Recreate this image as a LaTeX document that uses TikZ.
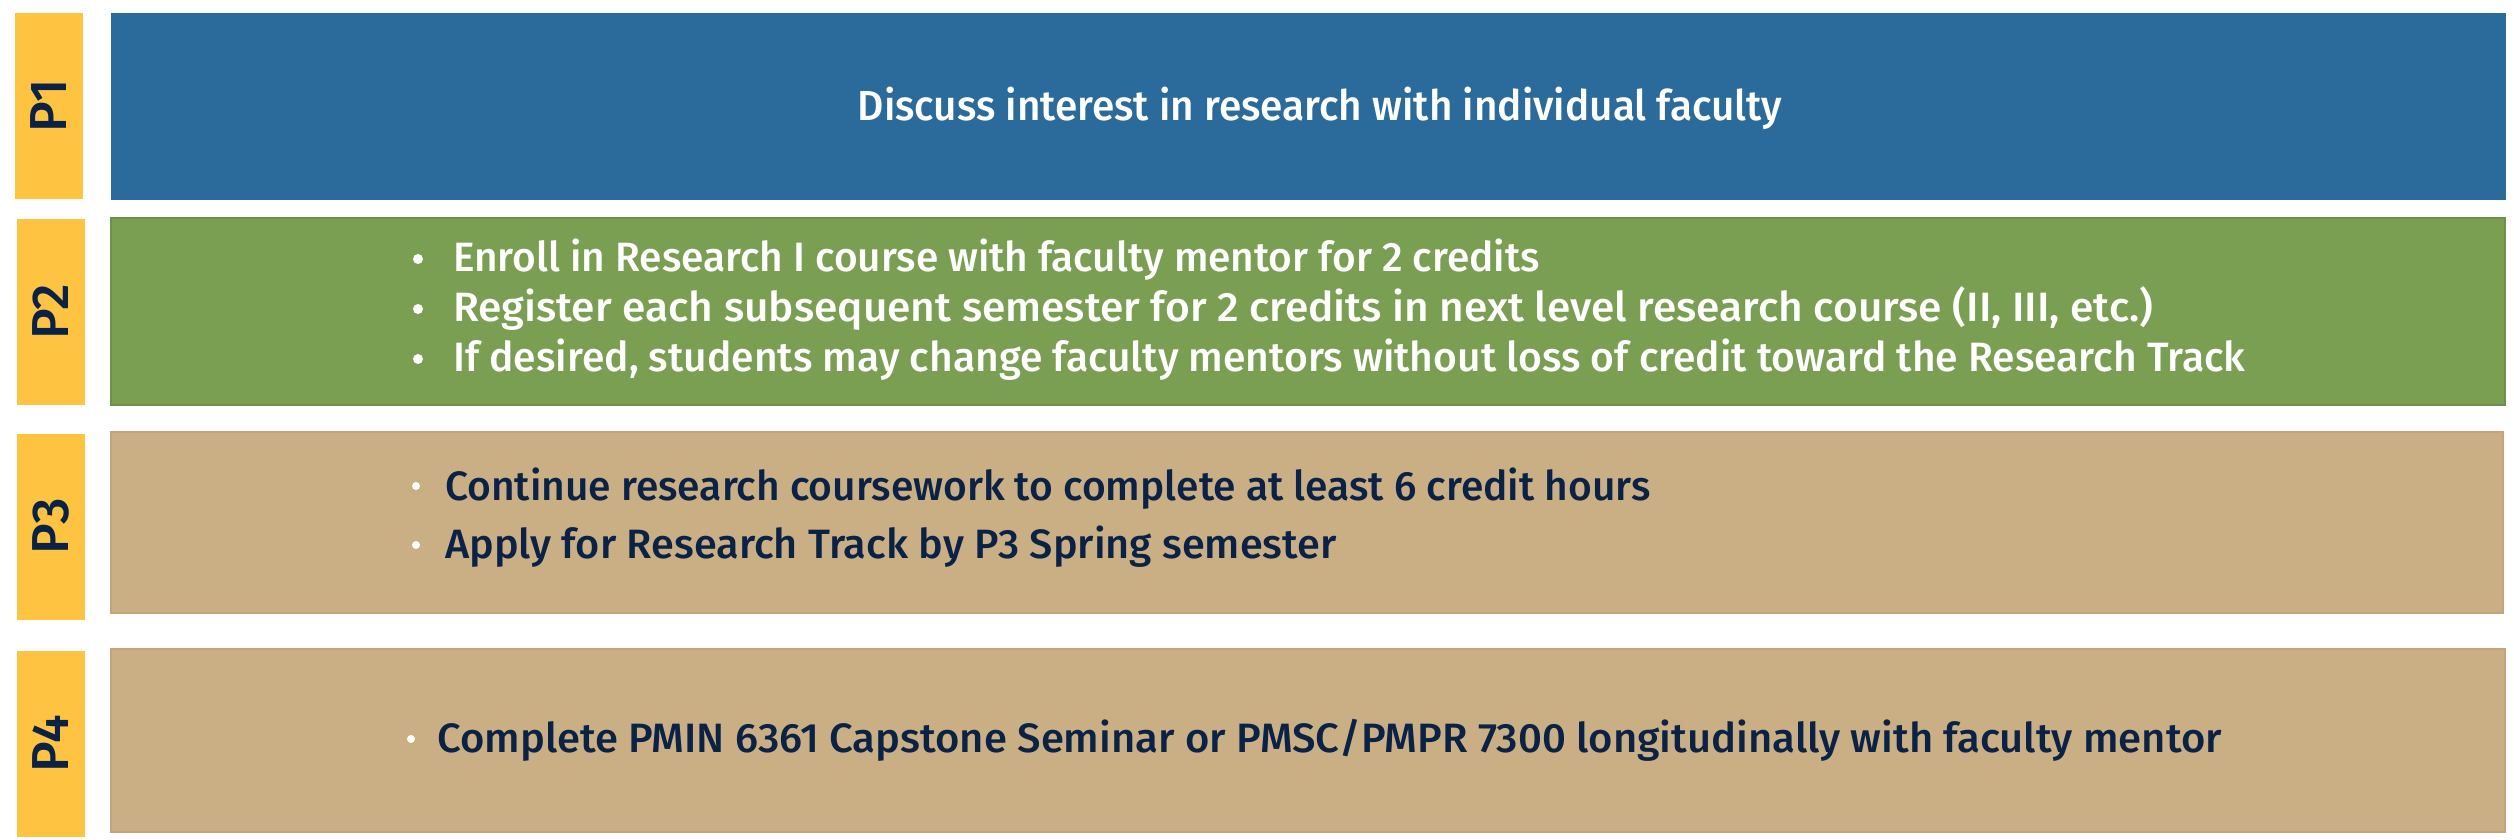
\documentclass[tikz,border=0pt]{standalone}
\usepackage{fontspec}
\usepackage{graphicx}
\setmainfont{Fira Sans}[UprightFont={* Medium}]
\definecolor{cblue}{HTML}{2B6B9B}
\definecolor{cgreen}{HTML}{7A9E52}
\definecolor{cgreenb}{HTML}{6F8F4C}
\definecolor{ctan}{HTML}{CBAF84}
\definecolor{ctanb}{HTML}{C2A57C}
\definecolor{cyel}{HTML}{FFC342}
\definecolor{cnavy}{HTML}{0B2247}
\newcommand{\hsq}[2]{\scalebox{#1}[1]{#2}}
\tikzset{
  lbl/.style={fill=cyel, draw=none, rotate=90, minimum width=186pt, minimum height=68pt,
    inner sep=0pt, text=cnavy, font=\fontsize{52}{56}\selectfont},
  txt/.style={inner sep=0pt, anchor=base west, font=\fontsize{41}{46}\selectfont},
  bul/.style={circle, fill=white, inner sep=0pt},
}
\begin{document}
\begin{tikzpicture}[x=1pt,y=-1pt]
\useasboundingbox (0,0) rectangle (2514,840);
\fill[white] (0,0) rectangle (2514,840);
% labels
\node[lbl] (l1) at (49,106) {P1};
\node[lbl] (l2) at (50.5,312) {P2};
\node[lbl] (l3) at (50.5,526.5) {P3};
\node[lbl] (l4) at (50.5,743.5) {P4};
% bands
\filldraw[fill=cblue, draw=cblue] (111,13) rectangle (2505,199);
\filldraw[fill=cgreen, draw=cgreenb, line width=2pt] (111,218) rectangle (2505,405);
\filldraw[fill=ctan, draw=ctanb, line width=2pt] (111,432) rectangle (2503,613);
\filldraw[fill=ctan, draw=ctanb, line width=2pt] (111,649) rectangle (2505,832);
% P1
\node[txt, anchor=base, text=white, font=\fontsize{42}{46}\selectfont] (t1) at (1320,121) {\hsq{0.966}{Discuss interest in research with individual faculty}};
% P2
\node[bul, minimum size=10pt] (b21) at (418,259) {};
\node[txt, text=white] (t21) at (453,271) {\hsq{0.99}{Enroll in Research I course with faculty mentor for 2 credits}};
\node[bul, minimum size=10pt] (b22) at (418,309) {};
\node[txt, text=white] (t22) at (453,321) {\hsq{1.035}{Register each subsequent semester for 2 credits in next level research course (II, III, etc.)}};
\node[bul, minimum size=10pt] (b23) at (418,359) {};
\node[txt, text=white] (t23) at (453,371) {\hsq{0.995}{If desired, students may change faculty mentors without loss of credit toward the Research Track}};
% P3
\node[bul, minimum size=8pt] (b31) at (416,486) {};
\node[txt, text=cnavy] (t31) at (445,500) {\hsq{0.993}{Continue research coursework to complete at least 6 credit hours}};
\node[bul, minimum size=8pt] (b32) at (416,545) {};
\node[txt, text=cnavy] (t32) at (445,558) {\hsq{1.011}{Apply for Research Track by P3 Spring semester}};
% P4
\node[bul, minimum size=8pt] (b41) at (411,739) {};
\node[txt, text=cnavy] (t41) at (437,752) {\hsq{1.02}{Complete PMIN 6361 Capstone Seminar or PMSC/PMPR 7300 longitudinally with faculty mentor}};
\end{tikzpicture}
\end{document}
